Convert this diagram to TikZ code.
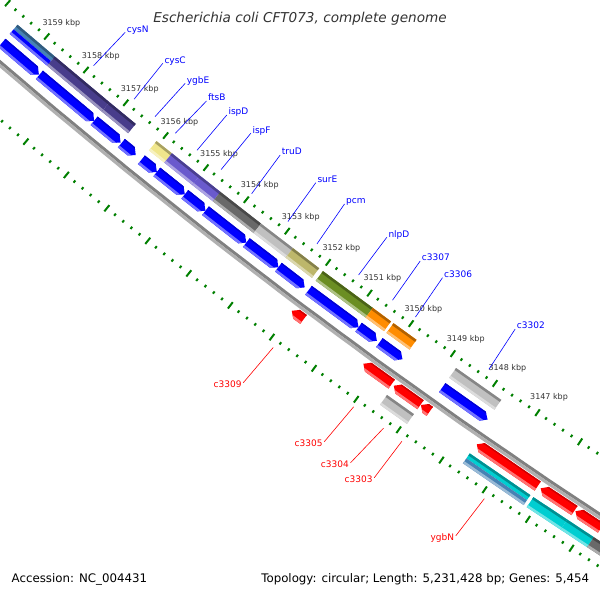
\documentclass[tikz,border=0pt]{standalone}
\usepackage{fontspec}
\setmainfont{DejaVu Sans}
\definecolor{fblue}{RGB}{0,0,255}
\definecolor{rred}{RGB}{255,0,0}
\definecolor{tickg}{RGB}{0,128,0}
\definecolor{cSteel}{RGB}{70,130,180}
\definecolor{cDSB}{RGB}{72,61,139}
\definecolor{cKhaki}{RGB}{240,230,140}
\definecolor{cSlate}{RGB}{106,90,205}
\definecolor{cDim}{RGB}{105,105,105}
\definecolor{cSilver}{RGB}{192,192,192}
\definecolor{cDKhaki}{RGB}{189,183,107}
\definecolor{cOlive}{RGB}{107,142,35}
\definecolor{cOrange}{RGB}{255,140,0}
\definecolor{cTurq}{RGB}{0,206,209}
\definecolor{kbpgray}{RGB}{51,51,51}
\definecolor{bbdark}{RGB}{128,128,128}
\definecolor{bblight}{RGB}{176,176,176}
\def\R{5854}
\def\hk{0.115}
\newcommand{\gband}[5]{\fill[#5] ({ph(#1)}:{\R+#3}) -- ({ph(#2)}:{\R+#3}) -- ({ph(#2)}:{\R+#4}) -- ({ph(#1)}:{\R+#4}) -- cycle;}
\newcommand{\cogat}[4]{%
  \gband{#1}{#2}{#4}{#4+12}{#3}%
  \gband{#1}{#2}{#4}{#4+2.5}{#3!70!black}%
  \gband{#1}{#2}{#4+9.5}{#4+12}{#3!55!white}}
\newcommand{\cogsplitat}[5]{%
  \gband{#1}{#2}{#5}{#5+6}{#3}%
  \gband{#1}{#2}{#5}{#5+2.5}{#3!70!black}%
  \gband{#1}{#2}{#5+6}{#5+12}{#4}%
  \gband{#1}{#2}{#5+9.5}{#5+12}{#4!55!white}}
\newcommand{\fpath}[2]{({ph(#1)}:{\R+28.5}) -- ({ph(#2+\hk)}:{\R+28.5}) -- ({ph(#2)}:{\R+34}) -- ({ph(#2+\hk)}:{\R+39.5}) -- ({ph(#1)}:{\R+39.5}) -- cycle}
\newcommand{\farrow}[2]{%
  \fill[fblue] \fpath{#1}{#2};
  \begin{scope}\clip \fpath{#1}{#2};
  \gband{#1+0.2}{#2-0.2}{27}{30}{fblue!82!black}
  \gband{#1+0.2}{#2-0.2}{37}{41}{fblue!55!white}
  \end{scope}}
\newcommand{\rpath}[2]{({ph(#1)}:{\R+60.5}) -- ({ph(#1-\hk)}:{\R+55}) -- ({ph(#2)}:{\R+55}) -- ({ph(#2)}:{\R+66}) -- ({ph(#1-\hk)}:{\R+66}) -- cycle}
\newcommand{\rarrow}[2]{%
  \fill[rred] \rpath{#1}{#2};
  \begin{scope}\clip \rpath{#1}{#2};
  \gband{#1+0.2}{#2-0.2}{54}{56.5}{rred!82!black}
  \gband{#1+0.2}{#2-0.2}{63.5}{67}{rred!55!white}
  \end{scope}}
\begin{document}
\begin{tikzpicture}[x=1pt,y=1pt,
  declare function={ph(\k)=-130.494+0.5045*(3159-\k);},
  kbplab/.style={font=\fontsize{8}{9}\selectfont, text=kbpgray, inner sep=0pt, anchor=base west},
  blab/.style={font=\fontsize{9}{10}\selectfont, text=fblue, inner sep=1.5pt, anchor=base west},
  rlab/.style={font=\fontsize{9}{10}\selectfont, text=rred, inner sep=1.5pt, anchor=base east},
  blead/.style={draw=fblue, line width=0.6pt},
  rlead/.style={draw=rred, line width=0.6pt},
  foot/.style={font=\fontsize{11.8}{14}\selectfont, text=black, inner sep=0pt}]
\useasboundingbox (0,0) rectangle (600,600);
\fill[white] (0,0) rectangle (600,600);
\clip (0,0) rectangle (600,600);
\begin{scope}[shift={(3848,5015)}]
  % tick rings
  \foreach \i in {0,...,85}{%
    \pgfmathsetmacro{\kk}{3160.4-0.2*\i}%
    \pgfmathtruncatemacro{\md}{mod(\i,5)}%
    \ifnum\md=2
      \draw[tickg,line width=2] ({ph(\kk)}:{\R-4}) -- ({ph(\kk)}:{\R+4});
      \draw[tickg,line width=2] ({ph(\kk)}:{\R+89.5}) -- ({ph(\kk)}:{\R+97.5});
    \else
      \draw[tickg,line width=2] ({ph(\kk)}:{\R-1.4}) -- ({ph(\kk)}:{\R+1.4});
      \draw[tickg,line width=2] ({ph(\kk)}:{\R+92.1}) -- ({ph(\kk)}:{\R+94.9});
    \fi}
  % forward COG bars
  \cogsplitat{3159.58}{3158.63}{cSteel}{fblue}{10}
  \cogat{3158.63}{3157.25}{cDSB}{10}
  \cogat{3157.25}{3156.59}{cDSB}{10}
  \cogat{3156.07}{3155.69}{cKhaki}{10}
  \cogat{3155.69}{3155.00}{cSlate}{10}
  \cogat{3155.00}{3154.49}{cSlate}{10}
  \cogat{3154.49}{3153.49}{cDim}{10}
  \cogat{3153.49}{3152.71}{cSilver}{10}
  \cogat{3152.71}{3152.07}{cDKhaki}{10}
  \cogat{3151.98}{3150.78}{cOlive}{10}
  \cogat{3150.78}{3150.34}{cOrange}{10}
  \cogat{3150.28}{3149.73}{cOrange}{10}
  \cogat{3148.79}{3147.72}{cSilver}{10}
  % forward genes
  \farrow{3159.58}{3158.64}
  \farrow{3158.63}{3157.25}
  \farrow{3157.25}{3156.59}
  \farrow{3156.57}{3156.21}
  \farrow{3156.07}{3155.69}
  \farrow{3155.69}{3155.00}
  \farrow{3155.00}{3154.49}
  \farrow{3154.49}{3153.49}
  \farrow{3153.49}{3152.71}
  \farrow{3152.71}{3152.07}
  \farrow{3151.98}{3150.78}
  \farrow{3150.78}{3150.34}
  \farrow{3150.28}{3149.73}
  \farrow{3148.79}{3147.72}
  % backbone
  \draw[bbdark,line width=3] plot[domain=3143.5:3160.5,samples=60] ({ph(\x)}:{\R+49.5});
  \draw[bblight,line width=3] plot[domain=3143.5:3160.5,samples=60] ({ph(\x)}:{\R+52.5});
  % reverse genes
  \rarrow{3152.00}{3151.72}
  \rarrow{3150.29}{3149.62}
  \rarrow{3149.57}{3148.94}
  \rarrow{3148.93}{3148.72}
  \rarrow{3147.62}{3146.20}
  \rarrow{3146.13}{3145.35}
  \rarrow{3145.33}{3144.74}
  % reverse COG bars
  \cogat{3149.57}{3148.94}{cSilver}{72}
  \cogsplitat{3147.63}{3146.22}{cTurq}{cSteel}{72}
  \cogat{3146.15}{3145.37}{cTurq}{72}
  \cogat{3145.37}{3144.76}{cTurq}{72}
  \cogat{3144.76}{3143.8}{cDim}{72}
  % leader anchors
  \coordinate (icysN) at ({ph(3157.94)}:{\R-8});
  \coordinate (icysC) at ({ph(3156.92)}:{\R-8});
  \coordinate (iygbE) at ({ph(3156.39)}:{\R-8});
  \coordinate (iftsB) at ({ph(3155.88)}:{\R-8});
  \coordinate (iispD) at ({ph(3155.345)}:{\R-8});
  \coordinate (iispF) at ({ph(3154.745)}:{\R-8});
  \coordinate (itruD) at ({ph(3153.99)}:{\R-8});
  \coordinate (isurE) at ({ph(3153.10)}:{\R-8});
  \coordinate (ipcm) at ({ph(3152.39)}:{\R-8});
  \coordinate (inlpD) at ({ph(3151.38)}:{\R-8});
  \coordinate (ic3307) at ({ph(3150.56)}:{\R-8});
  \coordinate (ic3306) at ({ph(3150.005)}:{\R-8});
  \coordinate (ic3302) at ({ph(3148.255)}:{\R-8});
  \coordinate (ic3309) at ({ph(3151.86)}:{\R+101});
  \coordinate (ic3305) at ({ph(3149.955)}:{\R+101});
  \coordinate (ic3304) at ({ph(3149.255)}:{\R+101});
  \coordinate (ic3303) at ({ph(3148.825)}:{\R+101});
  \coordinate (iygbN) at ({ph(3146.91)}:{\R+101});
\end{scope}
% kbp labels
\node[kbplab] (k3159) at (42.3,574.3) {3159 kbp};
\node[kbplab] (k3158) at (81.7,541.3) {3158 kbp};
\node[kbplab] (k3157) at (120.7,508.3) {3157 kbp};
\node[kbplab] (k3156) at (160.3,475.5) {3156 kbp};
\node[kbplab] (k3155) at (200,443.3) {3155 kbp};
\node[kbplab] (k3154) at (240.7,412.3) {3154 kbp};
\node[kbplab] (k3153) at (281.7,380.7) {3153 kbp};
\node[kbplab] (k3152) at (322.3,349.3) {3152 kbp};
\node[kbplab] (k3151) at (363.3,319) {3151 kbp};
\node[kbplab] (k3150) at (404.3,288.3) {3150 kbp};
\node[kbplab] (k3149) at (446.7,258.3) {3149 kbp};
\node[kbplab] (k3148) at (488.3,229.3) {3148 kbp};
\node[kbplab] (k3147) at (530,200.7) {3147 kbp};
% blue gene labels
\node[blab] (cysN) at (125.2,567.7) {cysN};
\node[blab] (cysC) at (162.8,536.7) {cysC};
\node[blab] (ygbE) at (185.2,516.7) {ygbE};
\node[blab] (ftsB) at (206.5,499) {ftsB};
\node[blab] (ispD) at (226.8,485) {ispD};
\node[blab] (ispF) at (250.8,466.7) {ispF};
\node[blab] (truD) at (280.2,445) {truD};
\node[blab] (surE) at (315.8,417.3) {surE};
\node[blab] (pcm) at (344.5,396) {pcm};
\node[blab] (nlpD) at (386.8,362.7) {nlpD};
\node[blab] (c3307) at (420.2,339) {c3307};
\node[blab] (c3306) at (442.5,322.3) {c3306};
\node[blab] (c3302) at (515.2,271) {c3302};
\foreach \g in {cysN,cysC,ygbE,ftsB,ispD,ispF,truD,surE,pcm,nlpD,c3307,c3306,c3302}{
  \draw[blead] (i\g) -- (\g.base west);}
% red gene labels
\node[rlab] (c3309) at (243.2,212.3) {c3309};
\node[rlab] (c3305) at (324.2,153.3) {c3305};
\node[rlab] (c3304) at (350.5,132.3) {c3304};
\node[rlab] (c3303) at (374.2,117.3) {c3303};
\node[rlab] (ygbN) at (455.8,59.3) {ygbN};
\foreach \g in {c3309,c3305,c3304,c3303,ygbN}{
  \draw[rlead] (i\g) -- ([yshift=4.9pt]\g.base east);}
% title and footer
\node[font=\fontsize{13.6}{16}\selectfont\itshape, text=kbpgray, inner sep=0pt, anchor=base] (title) at (300,577) {Escherichia coli CFT073, complete genome};
\node[foot, anchor=base west] (acc) at (11.5,17) {Accession: NC\_004431};
\node[foot, anchor=base east] (topo) at (589.4,17) {Topology: circular; Length: 5,231,428 bp; Genes: 5,454};
\end{tikzpicture}
\end{document}
